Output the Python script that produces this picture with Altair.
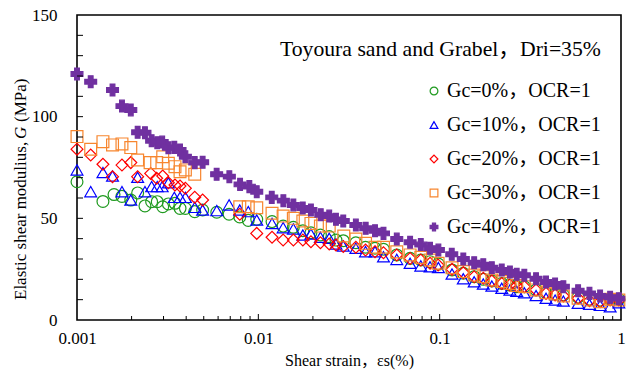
import altair as alt
import pandas as pd

# ---- series definitions -------------------------------------------------
series_names = ["Gc=0%，OCR=1", "Gc=10%，OCR=1", "Gc=20%，OCR=1",
                "Gc=30%，OCR=1", "Gc=40%，OCR=1"]
series_colors = ["#1f9a1f", "#0000ff", "#ff0000", "#f7862f", "#7030a0"]
series_fills = ["transparent", "transparent", "transparent", "transparent", "#7030a0"]
series_shapes = ["circle", "triangle-up", "diamond", "square", "cross"]

# ---- measured data: shear strain (%) and elastic shear modulus G (MPa) ---
strain_gc0 = [0.001, 0.00139, 0.0016, 0.00177, 0.00198, 0.00216, 0.00237, 0.00258,
              0.00277, 0.00297, 0.00319, 0.00347, 0.0037, 0.00396, 0.00446, 0.00493,
              0.0059, 0.0069, 0.0079, 0.0088, 0.0098, 0.0119, 0.0137, 0.0156, 0.0176,
              0.0195, 0.022, 0.0246, 0.0268, 0.0294, 0.0345, 0.039, 0.044, 0.049,
              0.058, 0.0687, 0.0787, 0.0885, 0.0984, 0.117, 0.135, 0.155, 0.174,
              0.194, 0.22, 0.244, 0.266, 0.293, 0.34, 0.386, 0.433, 0.481, 0.58,
              0.67, 0.767, 0.871, 0.973]
modulus_gc0 = [68.0, 58.3, 61.7, 60.8, 59.0, 62.5, 56.1, 58.2, 58.2, 55.7, 57.1, 57.4,
               54.9, 54.9, 53.3, 54.1, 53.0, 52.0, 50.7, 49.0, 49.5, 48.4, 46.2, 45.6,
               43.9, 42.9, 41.8, 41.0, 39.3, 39.0, 38.0, 35.8, 35.3, 34.8, 32.0, 30.3,
               29.5, 28.7, 27.5, 24.6, 23.0, 21.3, 20.0, 19.2, 18.0, 17.2, 16.4, 16.4,
               14.8, 13.4, 12.8, 12.3, 11.2, 10.2, 9.8, 10.2, 10.2]

strain_gc10 = [0.001, 0.00119, 0.00139, 0.00157, 0.00177, 0.00198, 0.00216, 0.00237,
               0.00258, 0.00277, 0.00295, 0.00319, 0.00344, 0.0037, 0.00396, 0.00446,
               0.00493, 0.0059, 0.0069, 0.0079, 0.0088, 0.0098, 0.0119, 0.0137, 0.0156,
               0.0176, 0.0195, 0.022, 0.0246, 0.0268, 0.0294, 0.0345, 0.039, 0.044,
               0.049, 0.058, 0.0687, 0.0787, 0.0885, 0.0984, 0.117, 0.135, 0.155, 0.174,
               0.194, 0.22, 0.244, 0.266, 0.293, 0.34, 0.386, 0.433, 0.481, 0.58, 0.67,
               0.767, 0.871, 0.973]
modulus_gc10 = [73.8, 63.1, 72.5, 70.8, 63.1, 59.0, 70.2, 63.1, 65.6, 65.6, 65.6, 67.5,
                60.3, 60.3, 60.3, 55.4, 54.1, 53.8, 56.6, 54.1, 53.3, 49.2, 47.5, 45.4,
                44.8, 41.8, 42.3, 40.7, 40.2, 37.4, 36.4, 35.3, 33.6, 33.6, 31.1, 29.8,
                27.9, 26.6, 26.2, 25.8, 22.6, 20.3, 18.8, 17.7, 16.7, 15.6, 14.8, 14.1,
                13.4, 12.0, 10.7, 9.8, 9.3, 8.2, 7.7, 7.2, 6.5, 8.5]

strain_gc20 = [0.001, 0.00119, 0.00139, 0.00157, 0.00177, 0.00198, 0.00216, 0.00255,
               0.00275, 0.00297, 0.00319, 0.00347, 0.0037, 0.00396, 0.00446, 0.00493,
               0.0079, 0.0098, 0.0119, 0.0137, 0.0156, 0.0176, 0.0195, 0.022, 0.0246,
               0.0268, 0.0294, 0.0345, 0.039, 0.044, 0.049, 0.058, 0.0687, 0.0787,
               0.0885, 0.098, 0.117, 0.135, 0.155, 0.174, 0.194, 0.22, 0.244, 0.266,
               0.293, 0.34, 0.386, 0.433, 0.481, 0.58, 0.67, 0.767, 0.871, 0.973]
modulus_gc20 = [84.0, 81.1, 76.6, 70.5, 76.2, 77.4, 70.5, 72.1, 69.7, 70.8, 67.5, 66.4,
                65.9, 64.8, 60.4, 59.0, 52.0, 42.6, 40.7, 39.3, 39.3, 39.3, 38.5, 38.0,
                37.4, 36.9, 36.1, 35.8, 34.4, 33.6, 33.1, 32.0, 30.3, 29.5, 27.9, 27.0,
                24.9, 23.3, 21.3, 20.5, 19.2, 18.0, 17.2, 16.7, 16.4, 14.8, 13.1, 12.3,
                11.8, 10.7, 9.5, 9.0, 9.8, 9.8]

strain_gc30 = [0.001, 0.00119, 0.00139, 0.00157, 0.00177, 0.00198, 0.00216, 0.00253,
               0.00275, 0.00297, 0.00319, 0.00347, 0.0037, 0.00396, 0.00446, 0.0079,
               0.0088, 0.0098, 0.0119, 0.0137, 0.0156, 0.0176, 0.0195, 0.022, 0.0246,
               0.0296, 0.0345, 0.039, 0.044, 0.049, 0.058, 0.0687, 0.0787, 0.0885,
               0.098, 0.117, 0.135, 0.155, 0.174, 0.194, 0.22, 0.244, 0.266, 0.293,
               0.34, 0.386, 0.433, 0.481, 0.58, 0.67, 0.767, 0.871, 0.973]
modulus_gc30 = [90.2, 84.0, 87.7, 86.1, 86.6, 84.8, 78.7, 77.4, 77.4, 80.3, 77.1, 75.4,
                72.9, 73.8, 71.7, 55.7, 55.7, 55.2, 52.5, 51.1, 50.0, 48.7, 47.5, 46.2,
                46.2, 41.3, 39.8, 37.7, 35.8, 35.8, 33.5, 32.0, 30.8, 29.5, 27.9, 25.7,
                23.8, 22.1, 21.3, 19.7, 18.9, 18.0, 17.0, 16.4, 14.8, 13.4, 12.8, 11.8,
                10.7, 9.8, 9.0, 10.2, 9.8]

strain_gc40 = [0.001, 0.00119, 0.00157, 0.00177, 0.00198, 0.00216, 0.00237, 0.00258,
               0.00277, 0.00295, 0.00319, 0.00344, 0.0037, 0.00396, 0.00446, 0.00493,
               0.00589, 0.00692, 0.00793, 0.00892, 0.0098, 0.01186, 0.01374, 0.0156,
               0.01758, 0.0195, 0.0221, 0.0246, 0.0268, 0.0294, 0.0345, 0.0391, 0.044,
               0.049, 0.058, 0.0687, 0.0787, 0.0885, 0.0984, 0.1166, 0.135, 0.155,
               0.174, 0.194, 0.22, 0.244, 0.266, 0.293, 0.34, 0.386, 0.433, 0.481,
               0.58, 0.67, 0.767, 0.871, 0.973]
modulus_gc40 = [121.0, 117.2, 113.1, 105.2, 103.3, 92.3, 92.1, 88.2, 87.2, 87.5, 84.7,
                84.9, 83.6, 80.3, 77.4, 77.6, 71.7, 70.5, 66.7, 65.6, 63.1, 60.3, 58.7,
                56.6, 55.1, 54.1, 51.8, 51.1, 49.5, 48.7, 46.7, 45.1, 43.9, 42.6, 39.8,
                38.2, 37.1, 35.3, 34.4, 32.3, 30.0, 28.2, 27.2, 25.7, 24.6, 23.6, 22.5,
                22.0, 20.3, 18.7, 17.7, 16.4, 14.4, 13.1, 11.8, 11.2, 10.5]

# ---- axis ticks -----------------------------------------------------------
x_tick_labels = [0.001, 0.01, 0.1, 1]
y_tick_labels = [0, 50, 100, 150]
x_minor_ticks = [0.002, 0.003, 0.004, 0.005, 0.006, 0.007, 0.008, 0.009,
                 0.02, 0.03, 0.04, 0.05, 0.06, 0.07, 0.08, 0.09,
                 0.2, 0.3, 0.4, 0.5, 0.6, 0.7, 0.8, 0.9]
x_major_ticks = [0.01, 0.1]
y_minor_ticks = [10, 20, 30, 40, 50, 60, 70, 80, 90, 100, 110, 120, 130, 140]

# ---- tidy table -----------------------------------------------------------
frames = []
for name, xs, ys in zip(series_names,
                        [strain_gc0, strain_gc10, strain_gc20, strain_gc30, strain_gc40],
                        [modulus_gc0, modulus_gc10, modulus_gc20, modulus_gc30, modulus_gc40]):
    frames.append(pd.DataFrame({"strain": xs, "G": ys, "series": name}))
data = pd.concat(frames, ignore_index=True)

SERIF = "Liberation Serif, Noto Sans CJK SC"
W, H = 544, 305

x_scale = alt.Scale(type="log", domain=[0.001, 1], nice=False)
y_scale = alt.Scale(domain=[0, 150], nice=False, zero=True)

# one axis definition per channel, shared by every layer so they merge
x_axis = alt.Axis(values=x_tick_labels, format="~g", ticks=False, domain=False,
                  grid=False, labelFont=SERIF, labelFontSize=17,
                  labelColor="black", labelPadding=10,
                  labelFlush=False, labelOverlap=False,
                  title="Shear strain，εs(%)", titleFont=SERIF,
                  titleFontSize=16, titleFontWeight="normal",
                  titleColor="black", titlePadding=6)
y_axis = alt.Axis(values=y_tick_labels, ticks=False, domain=False, grid=False,
                  labelFont=SERIF, labelFontSize=17, labelColor="black",
                  labelPadding=20, labelFlush=False, title=None)

points = alt.Chart(data).mark_point(strokeWidth=1.2, opacity=1, size=140).encode(
    x=alt.X("strain:Q", scale=x_scale, axis=x_axis),
    y=alt.Y("G:Q", scale=y_scale, axis=y_axis),
    shape=alt.Shape("series:N", title=None,
                    scale=alt.Scale(domain=series_names, range=series_shapes)),
    stroke=alt.Stroke("series:N", title=None,
                      scale=alt.Scale(domain=series_names, range=series_colors)),
    fill=alt.Fill("series:N", title=None,
                  scale=alt.Scale(domain=series_names, range=series_fills)),
)

# inward tick marks
y_ticks = alt.Chart(pd.DataFrame({"G": y_minor_ticks})).mark_rule(
    color="black", strokeWidth=1).encode(
    y=alt.Y("G:Q", scale=y_scale, axis=y_axis),
    x=alt.value(0), x2=alt.value(6))

x_minor = alt.Chart(pd.DataFrame({"strain": x_minor_ticks})).mark_rule(
    color="black", strokeWidth=1).encode(
    x=alt.X("strain:Q", scale=x_scale, axis=x_axis),
    y=alt.value(H), y2=alt.value(H - 4))

x_major = alt.Chart(pd.DataFrame({"strain": x_major_ticks})).mark_rule(
    color="black", strokeWidth=1).encode(
    x=alt.X("strain:Q", scale=x_scale, axis=x_axis),
    y=alt.value(H), y2=alt.value(H - 6))

# in-plot heading
heading = alt.Chart(pd.DataFrame({"t": ["Toyoura sand and Grabel，Dri=35%"]})).mark_text(
    font=SERIF, fontSize=21.7, color="black", align="left", baseline="middle").encode(
    text="t:N", x=alt.value(203), y=alt.value(34))

# vertical axis title with italic symbol
y_title_a = alt.Chart(pd.DataFrame({"t": ["Elastic shear modulius,"]})).mark_text(
    font=SERIF, fontSize=17, color="black", align="left", baseline="middle",
    angle=270).encode(text="t:N", x=alt.value(-56), y=alt.value(285))
y_title_b = alt.Chart(pd.DataFrame({"t": ["G"]})).mark_text(
    font=SERIF, fontSize=17, fontStyle="italic", color="black", align="left",
    baseline="middle", angle=270).encode(text="t:N", x=alt.value(-56), y=alt.value(124))
y_title_c = alt.Chart(pd.DataFrame({"t": ["(MPa)"]})).mark_text(
    font=SERIF, fontSize=17, color="black", align="left", baseline="middle",
    angle=270).encode(text="t:N", x=alt.value(-56), y=alt.value(107))

chart = alt.layer(
    points, y_ticks, x_minor, x_major, heading, y_title_a, y_title_b, y_title_c
).properties(
    width=W, height=H,
    padding={"left": 77, "top": 15, "right": 8, "bottom": 54},
    autosize="none",
    background="white",
).configure_view(
    stroke="black", strokeWidth=1.6
).configure_legend(
    orient="none", legendX=347, legendY=66, padding=0,
    labelFont=SERIF, labelFontSize=20, labelColor="black", labelOffset=3,
    symbolSize=60, symbolStrokeWidth=1.2, rowPadding=14, labelLimit=300,
)

chart.save("out.html", embed_options={"renderer": "svg", "actions": False})
